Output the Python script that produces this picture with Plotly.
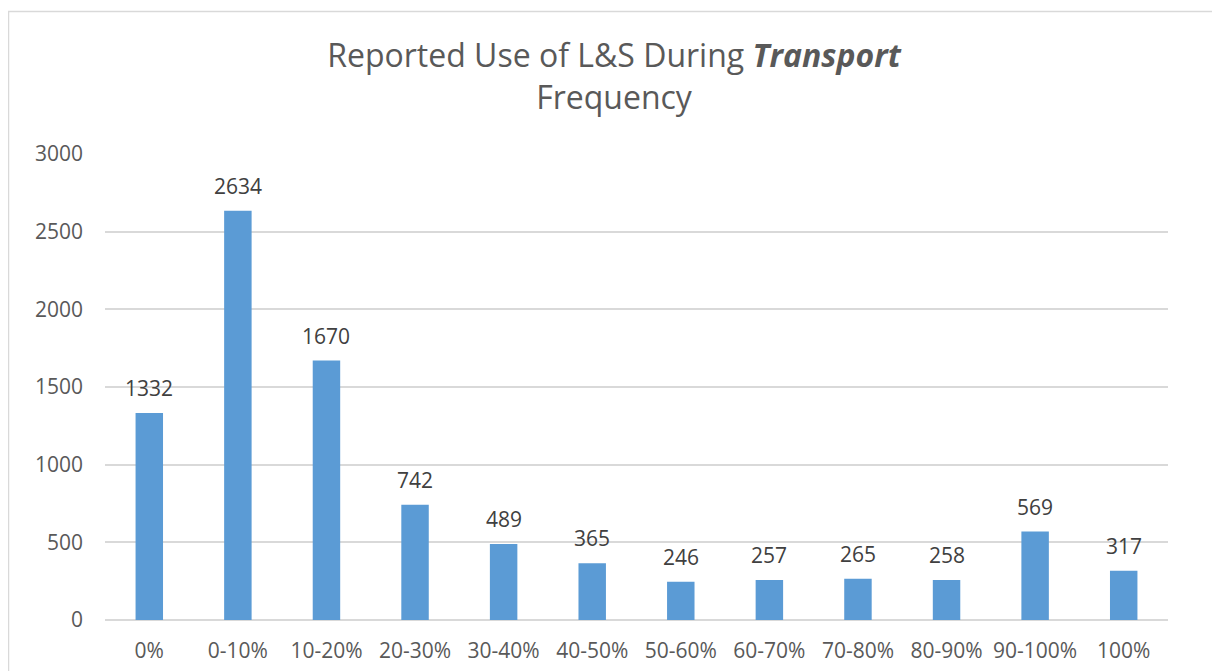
import plotly.graph_objects as go

categories = ["0%", "0-10%", "10-20%", "20-30%", "30-40%", "40-50%", "50-60%",
              "60-70%", "70-80%", "80-90%", "90-100%", "100%"]
values = [1332, 2634, 1670, 742, 489, 365, 246, 257, 265, 258, 569, 317]

# page body has an 8px margin; figure sized to fill the rest of the window
W, H = 1212, 663
L, R, T, B = 97, 52, 146, 51
pw, ph = W - L - R, H - T - B

fig = go.Figure()
fig.add_trace(go.Bar(x=categories, y=values, marker=dict(color="#5B9BD5", line=dict(width=0)),
                     width=0.31, hoverinfo="x+y"))

for c, v in zip(categories, values):
    fig.add_annotation(x=c, y=v, text=str(v), showarrow=False, yanchor="bottom", yshift=9,
                       font=dict(family="Open Sans", size=21, color="#404040"))

def px_x(p):
    return (p - L) / pw

def px_y(p):
    return (H - B - p) / ph

fig.add_shape(type="rect", xref="paper", yref="paper",
              x0=px_x(0.5), x1=px_x(1240), y0=px_y(3.5), y1=px_y(700),
              line=dict(color="#d9d9d9", width=1.5), fillcolor="rgba(0,0,0,0)", layer="below")

fig.update_layout(
    width=W, height=H,
    margin=dict(l=L, r=R, t=T, b=B, autoexpand=False),
    paper_bgcolor="white", plot_bgcolor="white",
    showlegend=False,
    title=dict(text="Reported Use of L&S During <b><i>Transport</i></b><br>Frequency",
               x=0.5, xanchor="center", y=1 - 59 / H, yanchor="top",
               font=dict(family="Open Sans", size=32, color="#595959")),
    xaxis=dict(showgrid=False, showline=False, ticks="", automargin=False,
               tickfont=dict(family="Open Sans", size=21, color="#595959"),
               ticklabelstandoff=16),
    yaxis=dict(range=[0, 3000], dtick=500, showgrid=True, gridcolor="#d9d9d9", gridwidth=1.5,
               zeroline=True, zerolinecolor="#d9d9d9", zerolinewidth=1.5, showline=False,
               automargin=False,
               tickfont=dict(family="Open Sans", size=21, color="#595959"), ticklabelstandoff=21),
    bargap=0.69,
)

fig.write_html("out.html")
